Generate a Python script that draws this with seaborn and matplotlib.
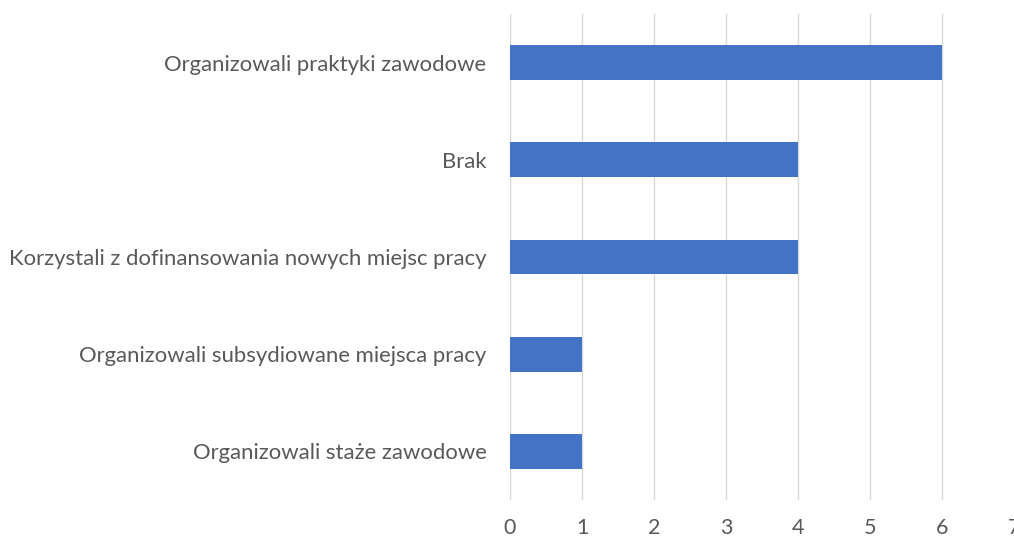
import matplotlib
matplotlib.use("Agg")
import matplotlib.pyplot as plt
import seaborn as sns
import pandas as pd

categories = [
    "Organizowali praktyki zawodowe",
    "Brak",
    "Korzystali z dofinansowania nowych miejsc pracy",
    "Organizowali subsydiowane miejsca pracy",
    "Organizowali staże zawodowe",
]
values = [6, 4, 4, 1, 1]
x_ticks = [0, 1, 2, 3, 4, 5, 6, 7]

sns.set_theme(style="white")
plt.rcParams["font.family"] = ["Lato", "DejaVu Sans"]

df = pd.DataFrame({"kategoria": categories, "liczba": values})

fig = plt.figure(figsize=(10.14, 5.38), dpi=100)
ax = fig.add_axes([510 / 1014, 1 - 500 / 538, 504 / 1014, 486 / 538])

sns.barplot(data=df, x="liczba", y="kategoria", orient="h", color="#4472C4",
            saturation=1, width=0.36, linewidth=0, ax=ax, zorder=3)

ax.set_xlim(0, 7)
ax.set_ylim(4.5, -0.5)
ax.set_xticks(x_ticks)
ax.set_xlabel("")
ax.set_ylabel("")
ax.grid(axis="x", color="#D9D9D9", linewidth=1.0, zorder=0)
ax.grid(axis="y", visible=False)
ax.get_xgridlines()[-1].set_visible(False)
for s in ax.spines.values():
    s.set_visible(False)
ax.tick_params(axis="x", length=0, pad=13, labelsize=15.5, labelcolor="#595959")
ax.tick_params(axis="y", length=0, pad=17, labelsize=15.9, labelcolor="#595959")

fig.savefig("out.png", dpi=100)
